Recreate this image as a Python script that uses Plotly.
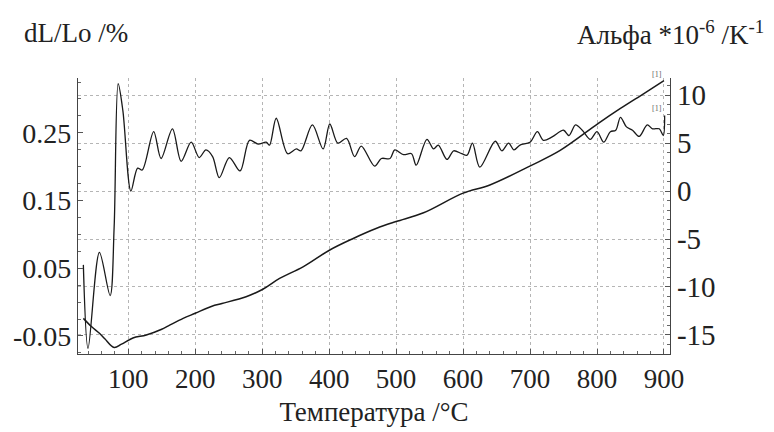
import plotly.graph_objects as go

# dL/Lo curve (left axis)
t_dl = [33, 45, 57, 65, 79, 90, 107, 127, 150, 160, 182, 200, 225, 240, 276, 301, 326, 361, 401, 436, 471,
        500, 541, 600, 640, 702, 745, 802, 835, 870, 900]
dl = [-0.024, -0.036, -0.046, -0.054, -0.067, -0.062, -0.053, -0.0485, -0.040, -0.035, -0.024, -0.0165,
      -0.006, -0.002, 0.008, 0.019, 0.035, 0.052, 0.077, 0.094, 0.109,
      0.119, 0.132, 0.161, 0.173, 0.202, 0.224, 0.264, 0.286, 0.308, 0.327]

# Alpha curve (right axis)
t_a = [33, 40, 57, 73, 79, 85, 92, 104, 114, 121, 138, 149, 166, 179, 194, 206, 216, 226, 236, 251, 267,
       281, 294, 306, 311, 321, 338, 351, 358, 375, 391, 401, 413, 426, 438, 448, 468, 478, 491, 498,
       511, 523, 530, 546, 556, 563, 576, 586, 598, 606, 614, 625, 648, 658, 668, 676, 685, 700, 711,
       720, 733, 750, 758, 768, 778, 790, 800, 810, 820, 828, 835, 844, 853, 863, 875, 883, 893, 899, 901]
alpha = [-7.7, -16.4, -6.4, -10.9, -3.7, 11.2, 8.4, 0.0, 2.4, 2.2, 6.2, 3.4, 6.5, 3.1, 5.1, 3.5, 4.3, 3.6,
         1.4, 3.5, 2.1, 5.3, 4.9, 5.1, 4.8, 7.6, 3.9, 4.4, 4.2, 6.9, 4.4, 7.0, 5.0, 5.5, 3.6, 4.7, 2.6,
         3.4, 3.4, 4.3, 3.8, 3.9, 2.7, 5.4, 4.4, 4.8, 3.3, 4.2, 3.9, 3.75, 5.0, 2.5, 5.2, 4.2, 5.0, 4.3,
         4.8, 5.1, 6.2, 5.3, 5.65, 6.35, 5.8, 6.9, 6.35, 5.4, 6.2, 5.1, 6.2, 6.35, 7.7, 6.7, 6.35, 5.7,
         6.9, 6.5, 6.5, 5.8, 7.9]

x_ticks = [100, 200, 300, 400, 500, 600, 700, 800, 900]
left_ticks = [-0.05, 0.05, 0.15, 0.25]
left_labels = ["-0.05", "0.05", "0.15", "0.25"]
right_ticks = [-15, -10, -5, 0, 5, 10]
right_labels = ["-15", "-10", "-5", "0", "5", "10"]

FONT = "Liberation Serif"
INK = "#222222"

fig = go.Figure()
fig.add_trace(go.Scatter(x=t_dl, y=dl, mode="lines", line=dict(color="#1a1a1a", width=1.5, shape="spline"),
                         yaxis="y", showlegend=False))
fig.add_trace(go.Scatter(x=t_a, y=alpha, mode="lines",
                         line=dict(color="#1a1a1a", width=1.3, shape="spline", smoothing=0.9),
                         yaxis="y2", showlegend=False))

# page body adds an 8px offset, so the figure is laid out 8px smaller/shifted
fig.update_layout(
    width=766, height=424,
    margin=dict(l=70, r=104, t=70, b=78, autoexpand=False),
    paper_bgcolor="white", plot_bgcolor="white",
    font=dict(family=FONT, color=INK, size=27),
    xaxis=dict(range=[25, 909], tickvals=x_ticks, ticktext=[str(v) for v in x_ticks], automargin=False,
               ticks="inside", ticklen=5, tickcolor="#555", showline=True, linecolor="#444", linewidth=1.2,
               showgrid=True, gridcolor="#b5b5b5", griddash="dot", gridwidth=1, zeroline=False,
               minor=dict(dtick=20, tick0=0, ticks="inside", ticklen=3, tickcolor="#666", showgrid=False),
               tickfont=dict(size=27), title=dict(text="Температура /°C", font=dict(size=27), standoff=9)),
    yaxis=dict(range=[-0.0766, 0.331], tickvals=left_ticks, ticktext=left_labels, automargin=False,
               ticks="inside", ticklen=5, tickcolor="#555", showline=True, linecolor="#444", linewidth=1.2,
               showgrid=False, zeroline=False,
               minor=dict(dtick=0.025, tick0=-0.05, ticks="inside", ticklen=3, tickcolor="#666", showgrid=False),
               tickfont=dict(size=28)),
    yaxis2=dict(range=[-17, 11.8], tickvals=right_ticks, ticktext=right_labels, overlaying="y", side="right",
                automargin=False,
                ticks="inside", ticklen=5, tickcolor="#555", showline=True, linecolor="#444", linewidth=1.2,
                showgrid=True, gridcolor="#b5b5b5", griddash="dot", gridwidth=1, zeroline=False,
                minor=dict(dtick=1, tick0=0, ticks="inside", ticklen=3, tickcolor="#666", showgrid=False),
                tickfont=dict(size=29)),
    annotations=[
        dict(text="dL/Lo /%", xref="paper", yref="paper", x=-0.095, y=1.163, xanchor="left", yanchor="middle",
             showarrow=False, font=dict(size=27)),
        dict(text="Альфа *10<sup>-6</sup> /K<sup>-1</sup>", xref="paper", yref="paper", x=1.162, y=1.163,
             xanchor="right", yanchor="middle", showarrow=False, font=dict(size=27)),
        dict(text="[1]", xref="x", yref="y", x=900, y=0.327, xanchor="right", yanchor="bottom",
             showarrow=False, font=dict(size=8, color="#666")),
        dict(text="[1]", xref="x", yref="y2", x=900, y=7.9, xanchor="right", yanchor="bottom",
             showarrow=False, font=dict(size=8, color="#666")),
    ],
)

fig.write_html("out.html")
